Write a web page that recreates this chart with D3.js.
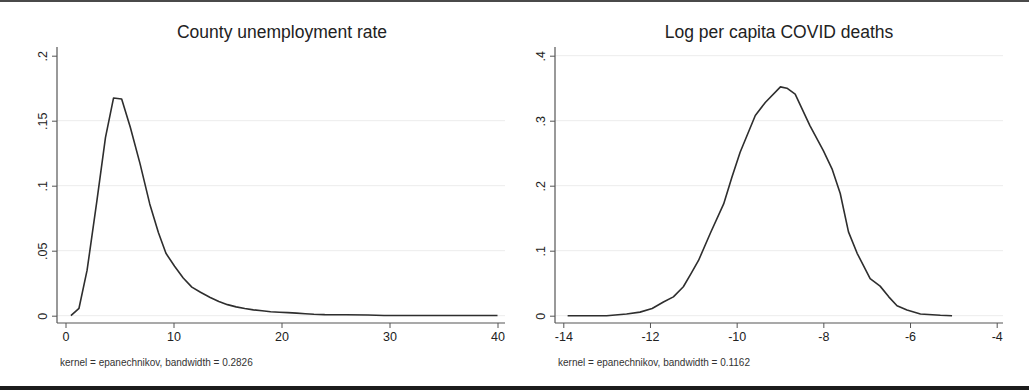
<!DOCTYPE html>
<html><head><meta charset="utf-8">
<script src="https://cdn.jsdelivr.net/npm/d3@7/dist/d3.min.js"></script>
<style>
html,body{margin:0;padding:0;background:#fff;}
svg{display:block;font-family:"Liberation Sans",Arial,sans-serif;}
</style></head>
<body>
<script>
// ---------- data ----------
const titles = ["County unemployment rate", "Log per capita COVID deaths"];
const notes = ["kernel = epanechnikov, bandwidth = 0.2826", "kernel = epanechnikov, bandwidth = 0.1162"];

const unempX = [0.5,1.25,2.0,2.9,3.7,4.45,5.2,6.0,6.9,7.8,8.6,9.3,10.1,10.9,11.7,12.5,13.4,14.2,15.0,15.8,16.6,17.4,18.2,19.0,19.8,20.6,21.4,22.2,23.0,24.0,26.0,28.0,29.5,32,35,38,40];
const unempY = [0,0.0057,0.035,0.088,0.137,0.1675,0.1667,0.145,0.117,0.086,0.064,0.048,0.038,0.029,0.022,0.018,0.014,0.011,0.0085,0.0068,0.0055,0.0045,0.0038,0.003,0.0027,0.0024,0.002,0.0015,0.0011,0.0008,0.0007,0.0005,0.0002,0.0001,0.0001,0.0001,0.0001];

const covidX = [-13.9,-13.0,-12.54,-12.23,-11.95,-11.69,-11.46,-11.23,-11.05,-10.88,-10.6,-10.3,-10.11,-9.92,-9.57,-9.34,-8.99,-8.84,-8.65,-8.31,-8.0,-7.8,-7.61,-7.42,-7.22,-6.92,-6.69,-6.49,-6.3,-6.07,-5.76,-5.3,-5.03];
const covidY = [0,0,0.0026,0.0055,0.011,0.021,0.029,0.0445,0.065,0.085,0.128,0.172,0.213,0.2515,0.308,0.328,0.352,0.350,0.341,0.2925,0.254,0.226,0.188,0.129,0.096,0.057,0.0455,0.029,0.0153,0.0087,0.0026,0.0006,0];

const unempXTicks = [0,10,20,30,40];
const unempXLabels = ["0","10","20","30","40"];
const unempYTicks = [0,0.05,0.1,0.15,0.2];
const unempYLabels = ["0",".05",".1",".15",".2"];
const covidXTicks = [-14,-12,-10,-8,-6,-4];
const covidXLabels = ["-14","-12","-10","-8","-6","-4"];
const covidYTicks = [0,0.1,0.2,0.3,0.4];
const covidYLabels = ["0",".1",".2",".3",".4"];

// ---------- layout ----------
const W = 1029, H = 390;
const svg = d3.select("body").append("svg").attr("width", W).attr("height", H);
svg.append("rect").attr("x",0).attr("y",0).attr("width",W).attr("height",H).attr("fill","#fff");
// frame bands
svg.append("rect").attr("x",0).attr("y",0).attr("width",W).attr("height",2).attr("fill","#4a4a4a");
svg.append("rect").attr("x",0).attr("y",386).attr("width",W).attr("height",4).attr("fill","#1c1c1c");

const panels = [
  {title:titles[0], note:notes[0], xs:unempX, ys:unempY, xTicks:unempXTicks, xLabels:unempXLabels, yTicks:unempYTicks, yLabels:unempYLabels,
   xDom:[0,40], xRange:[65.5,497.5], yDom:[0,0.2], axisX:57, axisRight:505, titleX:282, noteX:60, gridTop:false},
  {title:titles[1], note:notes[1], xs:covidX, ys:covidY, xTicks:covidXTicks, xLabels:covidXLabels, yTicks:covidYTicks, yLabels:covidYLabels,
   xDom:[-14,-4], xRange:[563.3,996.7], yDom:[0,0.4], axisX:555, axisRight:1003, titleX:779, noteX:558, gridTop:true}
];

const axisColor = "#555";
const yRange = [315.7, 55.7];
const axisY = 323;
const axisTop = 47;

panels.forEach(p => {
  const x = d3.scaleLinear().domain(p.xDom).range(p.xRange);
  const y = d3.scaleLinear().domain(p.yDom).range(yRange);
  const g = svg.append("g");

  // gridlines
  g.selectAll("line.grid").data(p.yTicks.filter((t,i)=> p.gridTop || i < p.yTicks.length-1)).enter().append("line")
    .attr("x1", p.axisX).attr("x2", p.axisRight)
    .attr("y1", d=>y(d)).attr("y2", d=>y(d))
    .attr("stroke", "#ececec").attr("stroke-width", 1);

  // x axis
  const xa = g.append("g").attr("transform", `translate(0,${axisY})`)
    .call(d3.axisBottom(x).tickValues(p.xTicks).tickFormat((d,i)=>p.xLabels[i]).tickSize(5).tickPadding(4));
  xa.select(".domain").remove();
  xa.selectAll("line").attr("stroke", axisColor);
  xa.selectAll("text").attr("font-size", 12.5).attr("fill", "#222")
    .attr("font-family", '"Liberation Sans",Arial,sans-serif');
  g.append("line").attr("x1", p.axisX).attr("x2", p.axisRight).attr("y1", axisY).attr("y2", axisY)
    .attr("stroke", axisColor).attr("stroke-width", 1.2);

  // y axis
  const ya = g.append("g").attr("transform", `translate(${p.axisX},0)`)
    .call(d3.axisLeft(y).tickValues(p.yTicks).tickFormat((d,i)=>p.yLabels[i]).tickSize(5).tickPadding(5));
  ya.select(".domain").remove();
  ya.selectAll("line").attr("stroke", axisColor);
  ya.selectAll("text").attr("font-size", 12.5).attr("fill", "#222")
    .attr("font-family", '"Liberation Sans",Arial,sans-serif')
    .attr("text-anchor", "middle").attr("dy", null)
    .attr("transform", "translate(-10,0) rotate(-90)")
    .attr("x", 0).attr("y", 0);
  g.append("line").attr("x1", p.axisX).attr("x2", p.axisX).attr("y1", axisTop).attr("y2", axisY)
    .attr("stroke", axisColor).attr("stroke-width", 1.2);

  // curve
  const pts = p.xs.map((v,i)=>[v, p.ys[i]]);
  g.append("path").datum(pts)
    .attr("d", d3.line().x(d=>x(d[0])).y(d=>y(d[1])))
    .attr("fill","none").attr("stroke","#2e2e2e").attr("stroke-width",1.6).attr("stroke-linejoin","round");

  // title
  g.append("text").attr("x", p.titleX).attr("y", 37.5).attr("text-anchor","middle")
    .attr("font-size", 17.5).attr("fill","#222").text(p.title);
  // note
  g.append("text").attr("x", p.noteX).attr("y", 366).attr("font-size", 10).attr("fill","#333").text(p.note);
});
</script>
</body></html>
